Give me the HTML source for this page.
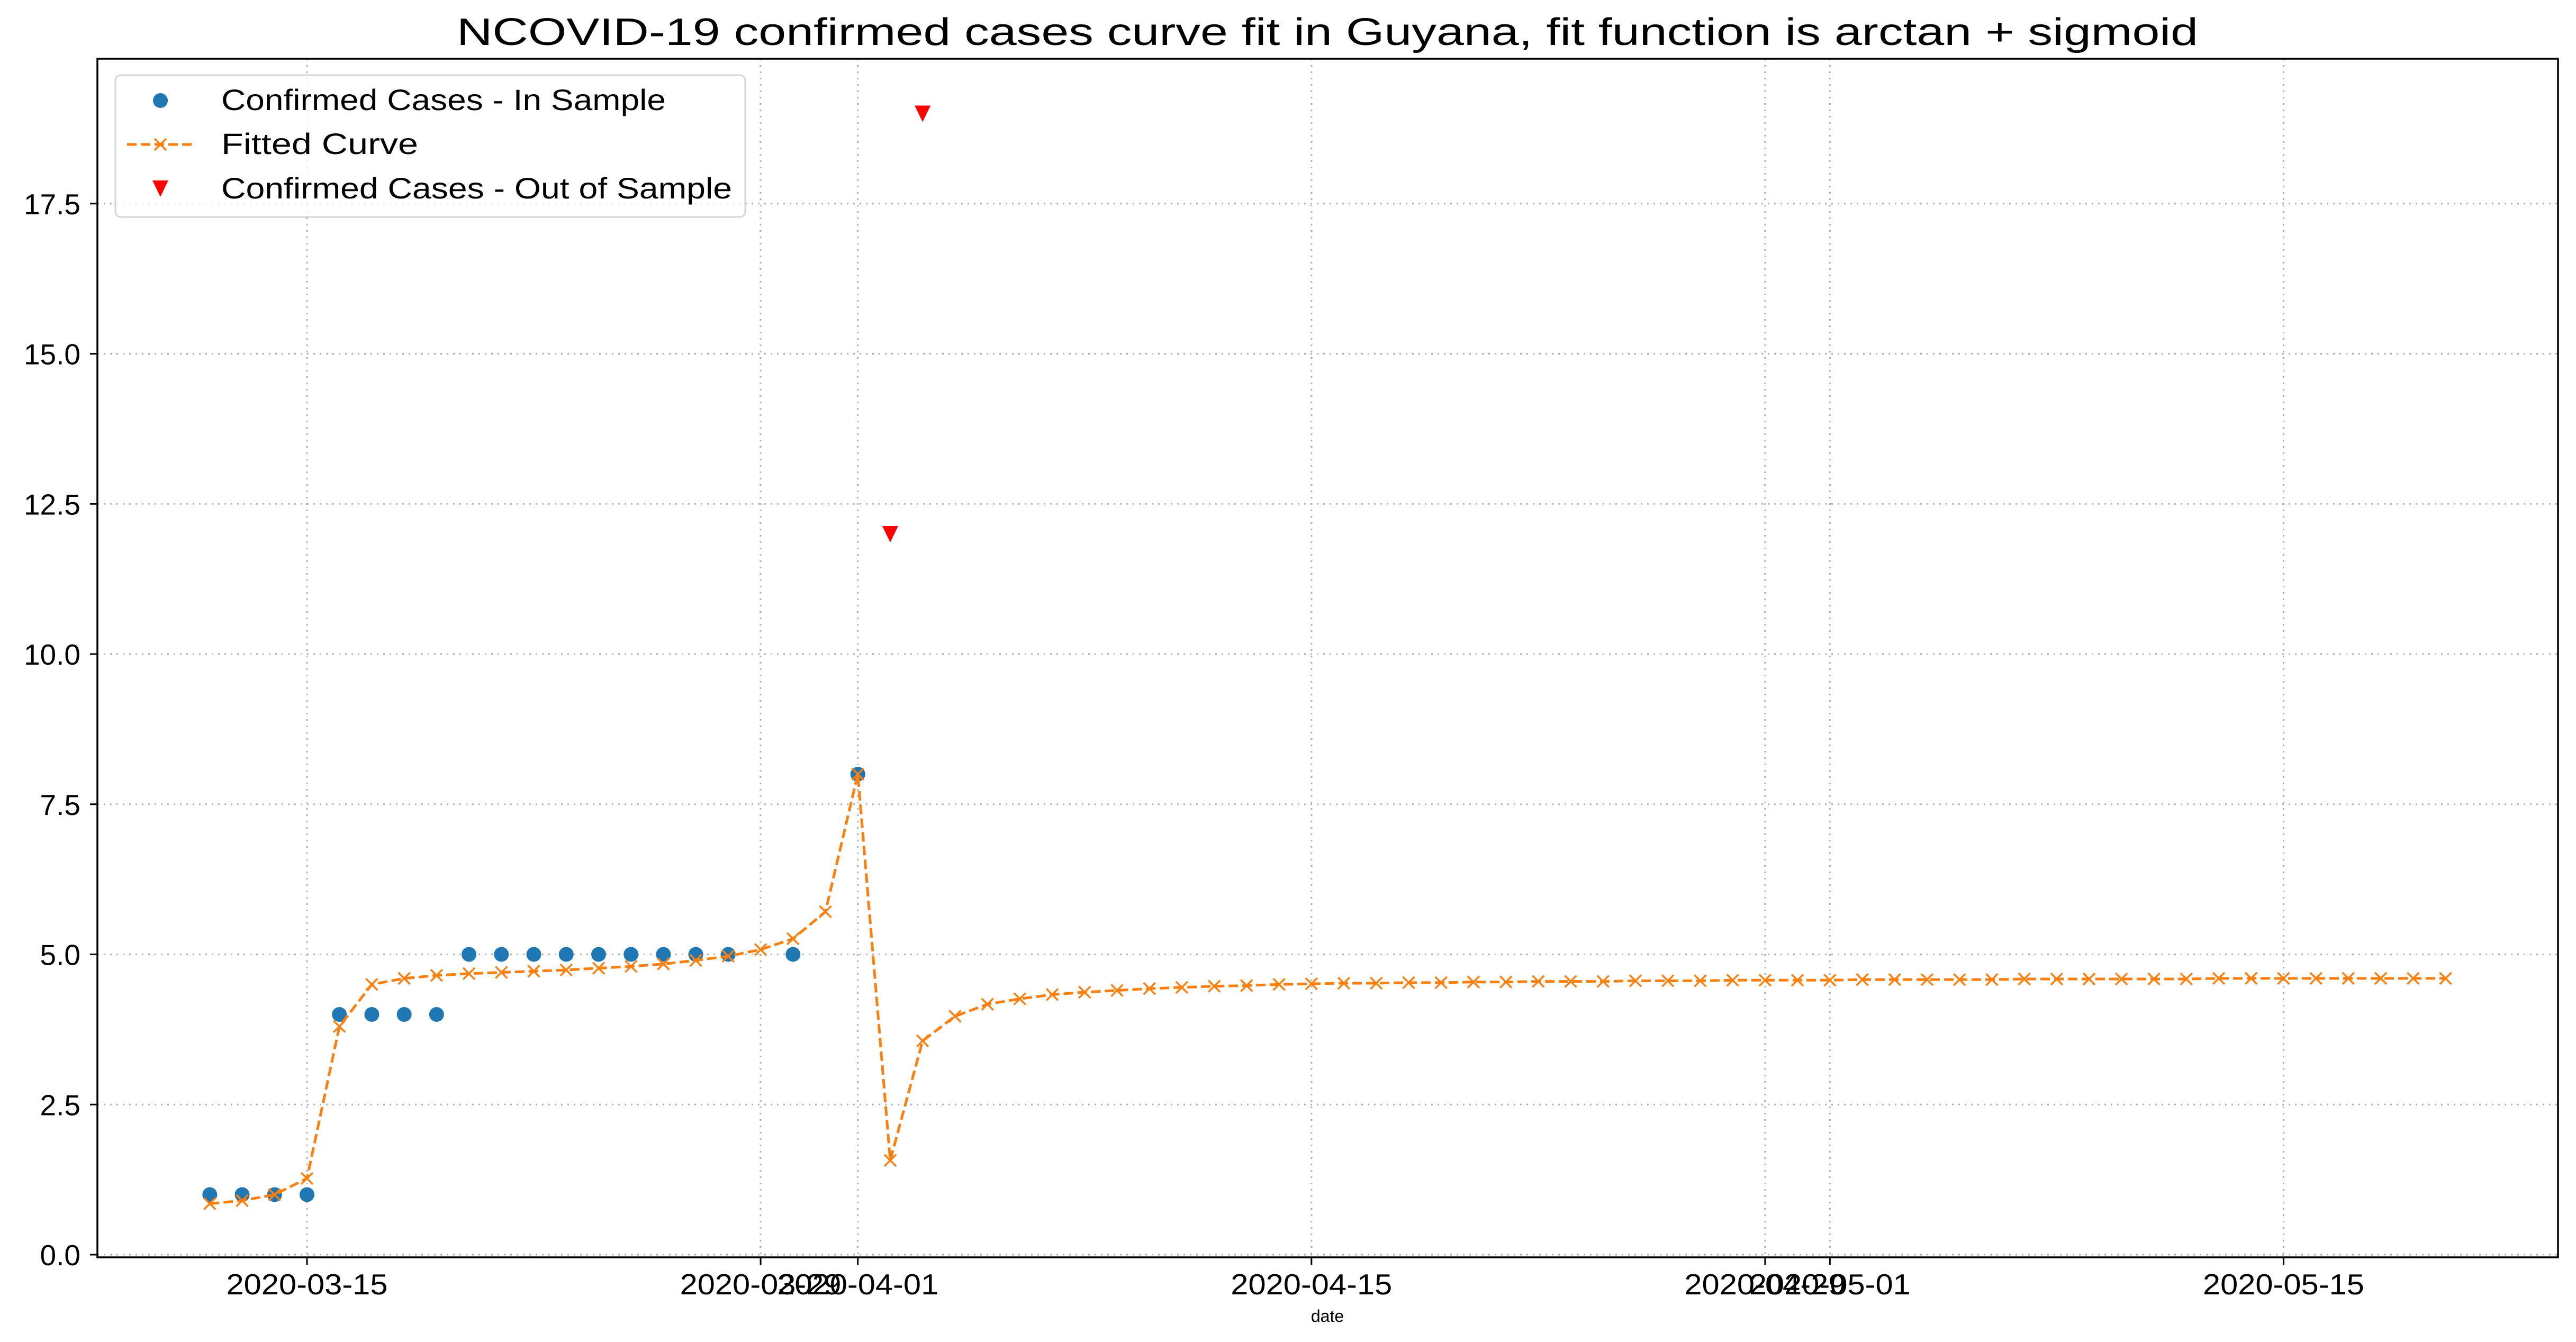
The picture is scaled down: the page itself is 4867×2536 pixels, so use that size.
<!DOCTYPE html>
<html><head><meta charset="utf-8"><style>
html,body{margin:0;padding:0;background:#fff}
svg{display:block}
text{font-family:"Liberation Sans","Noto Sans CJK SC",sans-serif;fill:#000}
</style></head><body>
<svg id="chart" width="4867" height="2536" viewBox="0 0 4867 2536" xmlns="http://www.w3.org/2000/svg">
<rect width="4867" height="2536" fill="#fff"/>
<g id="grid"></g>
<g id="series"></g>
<g id="axes"></g>
<text x="2508" y="85" font-size="72" text-anchor="middle" textLength="3290" lengthAdjust="spacingAndGlyphs">NCOVID-19 confirmed cases curve fit in Guyana, fit function is arctan + sigmoid</text>
<text x="2508" y="2498" font-size="32" text-anchor="middle">date</text>
<g>
<rect x="218" y="142" width="1190" height="268" rx="10" fill="#fff" fill-opacity="0.8" stroke="#d5d5d5" stroke-width="3"/>
<g>
<ellipse cx="303" cy="190" rx="14" ry="14" fill="#1f77b4"/>
<text x="418" y="208" font-size="56" textLength="840" lengthAdjust="spacingAndGlyphs">Confirmed Cases - In Sample</text>
</g>
<g>
<line x1="240" y1="273" x2="365" y2="273" stroke="#ff7f0e" stroke-width="5" stroke-dasharray="18,8"/>
<path d="M292 262 L314 284 M314 262 L292 284" stroke="#ff7f0e" stroke-width="3.5"/>
<text x="418" y="291" font-size="56" textLength="372" lengthAdjust="spacingAndGlyphs">Fitted Curve</text>
</g>
<g>
<path d="M288 341 L318 341 L303 372 Z" fill="#ff0000"/>
<text x="418" y="375" font-size="56" textLength="965" lengthAdjust="spacingAndGlyphs">Confirmed Cases - Out of Sample</text>
</g>
</g>
</svg>
<script>
const inDates = ["2020-03-12","2020-03-13","2020-03-14","2020-03-15","2020-03-16","2020-03-17","2020-03-18","2020-03-19","2020-03-20","2020-03-21","2020-03-22","2020-03-23","2020-03-24","2020-03-25","2020-03-26","2020-03-27","2020-03-28","2020-03-30","2020-04-01"];
const inValues = [1,1,1,1,4,4,4,4,5,5,5,5,5,5,5,5,5,5,8];
const outDates = ["2020-04-02","2020-04-03"];
const outValues = [12,19];
const fitStart = "2020-03-12";
const fitValues = [0.85,0.9,1.0,1.27,3.8,4.5,4.6,4.65,4.68,4.7,4.72,4.74,4.77,4.8,4.84,4.9,4.97,5.08,5.26,5.71,8.0,1.57,3.56,3.97,4.17,4.26,4.33,4.37,4.4,4.43,4.45,4.47,4.48,4.5,4.51,4.52,4.52,4.53,4.53,4.54,4.54,4.55,4.55,4.55,4.56,4.56,4.56,4.57,4.57,4.57,4.57,4.58,4.58,4.58,4.58,4.58,4.59,4.59,4.59,4.59,4.59,4.59,4.6,4.6,4.6,4.6,4.6,4.6,4.6,4.6];
const xTickLabels = ["2020-03-15","2020-03-29","2020-04-01","2020-04-15","2020-04-29","2020-05-01","2020-05-15"];
const yTickValues = [0,2.5,5,7.5,10,12.5,15,17.5];

const NS="http://www.w3.org/2000/svg";
const L=184,R=4833,T=111,B=2376;
const DAY=86400000, base=Date.parse("2020-03-15");
function xs(d){return 580+(Date.parse(d)-base)/DAY*61.22;}
function ys(v){return 2371-v*113.5;}
function mk(tag,attrs,parent){const e=document.createElementNS(NS,tag);for(const k in attrs)e.setAttribute(k,attrs[k]);parent.appendChild(e);return e;}
const grid=document.getElementById('grid'),ser=document.getElementById('series'),ax=document.getElementById('axes');

xTickLabels.forEach(d=>{
  const x=xs(d);
  const g=mk('line',{x1:x,y1:T,x2:x,y2:B,stroke:'#b0b0b0','stroke-width':3,'stroke-dasharray':'3,9'},grid);
  
  
  const t=mk('line',{x1:x,y1:B,x2:x,y2:B+14,stroke:'#000','stroke-width':3},ax);
  
  
  const lb=mk('text',{x:x,y:2446,'font-size':55,'text-anchor':'middle',textLength:305,lengthAdjust:'spacingAndGlyphs'},ax);
  lb.textContent=d;
  
  
});
yTickValues.forEach(v=>{
  const y=ys(v);
  const g=mk('line',{x1:L,y1:y,x2:R,y2:y,stroke:'#b0b0b0','stroke-width':3,'stroke-dasharray':'3,9'},grid);
  
  
  const t=mk('line',{x1:L-14,y1:y,x2:L,y2:y,stroke:'#000','stroke-width':3},ax);
  
  
  const lb=mk('text',{x:152,y:y+20,'font-size':55,'text-anchor':'end'},ax);
  lb.textContent=v.toFixed(1);
  
  
});
const frame=mk('rect',{x:L,y:T,width:R-L,height:B-T,fill:'none',stroke:'#000','stroke-width':3.5},ax);



// in-sample dots
inDates.forEach((d,i)=>{
  const c=mk('circle',{cx:xs(d),cy:ys(inValues[i]),r:14,fill:'#1f77b4'},ser);
  
  
});
// fitted curve
const s0=Date.parse(fitStart);
const pts=fitValues.map((v,i)=>{const d=new Date(s0+i*DAY).toISOString().slice(0,10);return [xs(d),ys(v)];});
const pl=mk('polyline',{points:pts.map(p=>p.join(',')).join(' '),fill:'none',stroke:'#ff7f0e','stroke-width':5,'stroke-dasharray':'18,8'},ser);


pts.forEach(p=>{
  const m=mk('path',{d:`M${p[0]-11} ${p[1]-11} L${p[0]+11} ${p[1]+11} M${p[0]+11} ${p[1]-11} L${p[0]-11} ${p[1]+11}`,stroke:'#ff7f0e','stroke-width':3.5},ser);
  
  
});
// out-of-sample
outDates.forEach((d,i)=>{
  const x=xs(d),y=ys(outValues[i]);
  const m=mk('path',{d:`M${x-15} ${y-15} L${x+15} ${y-15} L${x} ${y+16} Z`,fill:'#ff0000'},ser);
  
  
});
</script>
</body></html>
